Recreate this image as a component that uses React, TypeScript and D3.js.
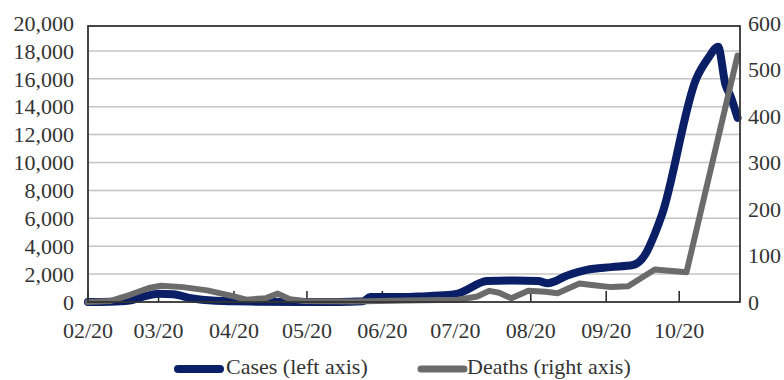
import React from "react";
import * as d3 from "d3";

const caseDates = ["2020-02-01","2020-02-10","2020-02-18","2020-02-24","2020-03-01","2020-03-07","2020-03-15","2020-03-23","2020-04-01","2020-04-11","2020-04-28","2020-05-14","2020-05-24","2020-05-27","2020-06-08","2020-06-16","2020-06-28","2020-07-02","2020-07-14","2020-07-25","2020-08-04","2020-08-08","2020-08-16","2020-08-24","2020-09-03","2020-09-12","2020-09-17","2020-09-21","2020-09-24","2020-10-08","2020-10-13","2020-10-17","2020-10-20","2020-10-22","2020-10-25"];
const caseValues = [0,20,100,400,600,550,250,100,50,20,0,0,50,350,350,400,500,600,1500,1550,1500,1350,1900,2300,2500,2650,3400,4900,6300,16000,17500,18300,15600,14800,13200];

const deathDates = ["2020-02-01","2020-02-10","2020-02-18","2020-02-26","2020-03-02","2020-03-11","2020-03-21","2020-04-01","2020-04-06","2020-04-14","2020-04-19","2020-04-24","2020-04-30","2020-05-20","2020-06-10","2020-07-02","2020-07-10","2020-07-15","2020-07-19","2020-07-24","2020-07-31","2020-08-07","2020-08-12","2020-08-21","2020-08-27","2020-09-03","2020-09-10","2020-09-21","2020-10-04","2020-10-25"];
const deathValues = [0,2,15,30,35,32,25,12,5,8,18,6,2,1,3,5,12,24,20,8,24,22,19,40,36,32,34,70,64,530];

const leftTicks = [0,2000,4000,6000,8000,10000,12000,14000,16000,18000,20000];
const rightTicks = [0,100,200,300,400,500,600];
const monthTicks = ["2020-02-01","2020-03-01","2020-04-01","2020-05-01","2020-06-01","2020-07-01","2020-08-01","2020-09-01","2020-10-01"];
const legendLabels = ["Cases (left axis)","Deaths (right axis)"];

const NAVY = "#0b1f66";
const GRAY = "#6b6b6b";
const FONT = "'Liberation Serif','Times New Roman',serif";

export default function App() {
  const parse = d3.utcParse("%Y-%m-%d");
  const left = 88, right = 740, top = 23, bottom = 302;
  const x = d3.scaleUtc().domain([parse("2020-02-01")!, parse("2020-10-26")!]).range([left, right]);
  const yL = d3.scaleLinear().domain([0, 20000]).range([bottom, top]);
  const yR = d3.scaleLinear().domain([0, 600]).range([bottom, top]);
  const fmt = d3.format(",");
  const cases = caseDates.map((d, i) => ({ d: parse(d)!, v: caseValues[i] }));
  const deaths = deathDates.map((d, i) => ({ d: parse(d)!, v: deathValues[i] }));
  const caseLine = d3.line<{ d: Date; v: number }>().x(p => x(p.d)).y(p => yL(p.v)).curve(d3.curveMonotoneX);
  const deathLine = d3.line<{ d: Date; v: number }>().x(p => x(p.d)).y(p => yR(p.v)).curve(d3.curveLinear);
  const months = monthTicks.map(m => parse(m)!);
  const mfmt = d3.utcFormat("%m/%y");

  return (
    <svg width={784} height={380} style={{ position: "absolute", left: 0, top: 0, background: "#fff" }} fontFamily={FONT}>
      {leftTicks.slice(1, -1).map(t => (
        <line key={t} x1={left} x2={right} y1={yL(t)} y2={yL(t)} stroke="#c4c4c4" strokeWidth={1.5} />
      ))}
      {months.map((m, i) => (
        <line key={i} x1={x(m)} x2={x(m)} y1={bottom} y2={bottom - 11} stroke="#222" strokeWidth={1.5} />
      ))}
      <path d={caseLine(cases) || ""} fill="none" stroke={NAVY} strokeWidth={8} strokeLinejoin="round" strokeLinecap="round" />
      <path d={deathLine(deaths) || ""} fill="none" stroke={GRAY} strokeWidth={6} strokeLinejoin="round" strokeLinecap="round" />
      <rect x={left} y={top + 3} width={right - left} height={bottom - top - 3} fill="none" stroke="#333" strokeWidth={1.8} />
      {leftTicks.map(t => (
        <text key={t} x={74} y={yL(t)} dy="0.35em" textAnchor="end" fontSize={22} fill="#333">{fmt(t)}</text>
      ))}
      {rightTicks.map(t => (
        <text key={t} x={748} y={yR(t)} dy="0.35em" textAnchor="start" fontSize={22} fill="#333">{t}</text>
      ))}
      {months.map((m, i) => (
        <text key={i} x={x(m)} y={338} textAnchor="middle" fontSize={22} fill="#333">{mfmt(m)}</text>
      ))}
      <line x1={178} x2={220} y1={369} y2={369} stroke={NAVY} strokeWidth={8} strokeLinecap="round" />
      <text x={226} y={374} fontSize={22} fill="#333">{legendLabels[0]}</text>
      <line x1={421} x2={464} y1={369} y2={369} stroke={GRAY} strokeWidth={7} strokeLinecap="round" />
      <text x={467} y={374} fontSize={22} fill="#333">{legendLabels[1]}</text>
    </svg>
  );
}
